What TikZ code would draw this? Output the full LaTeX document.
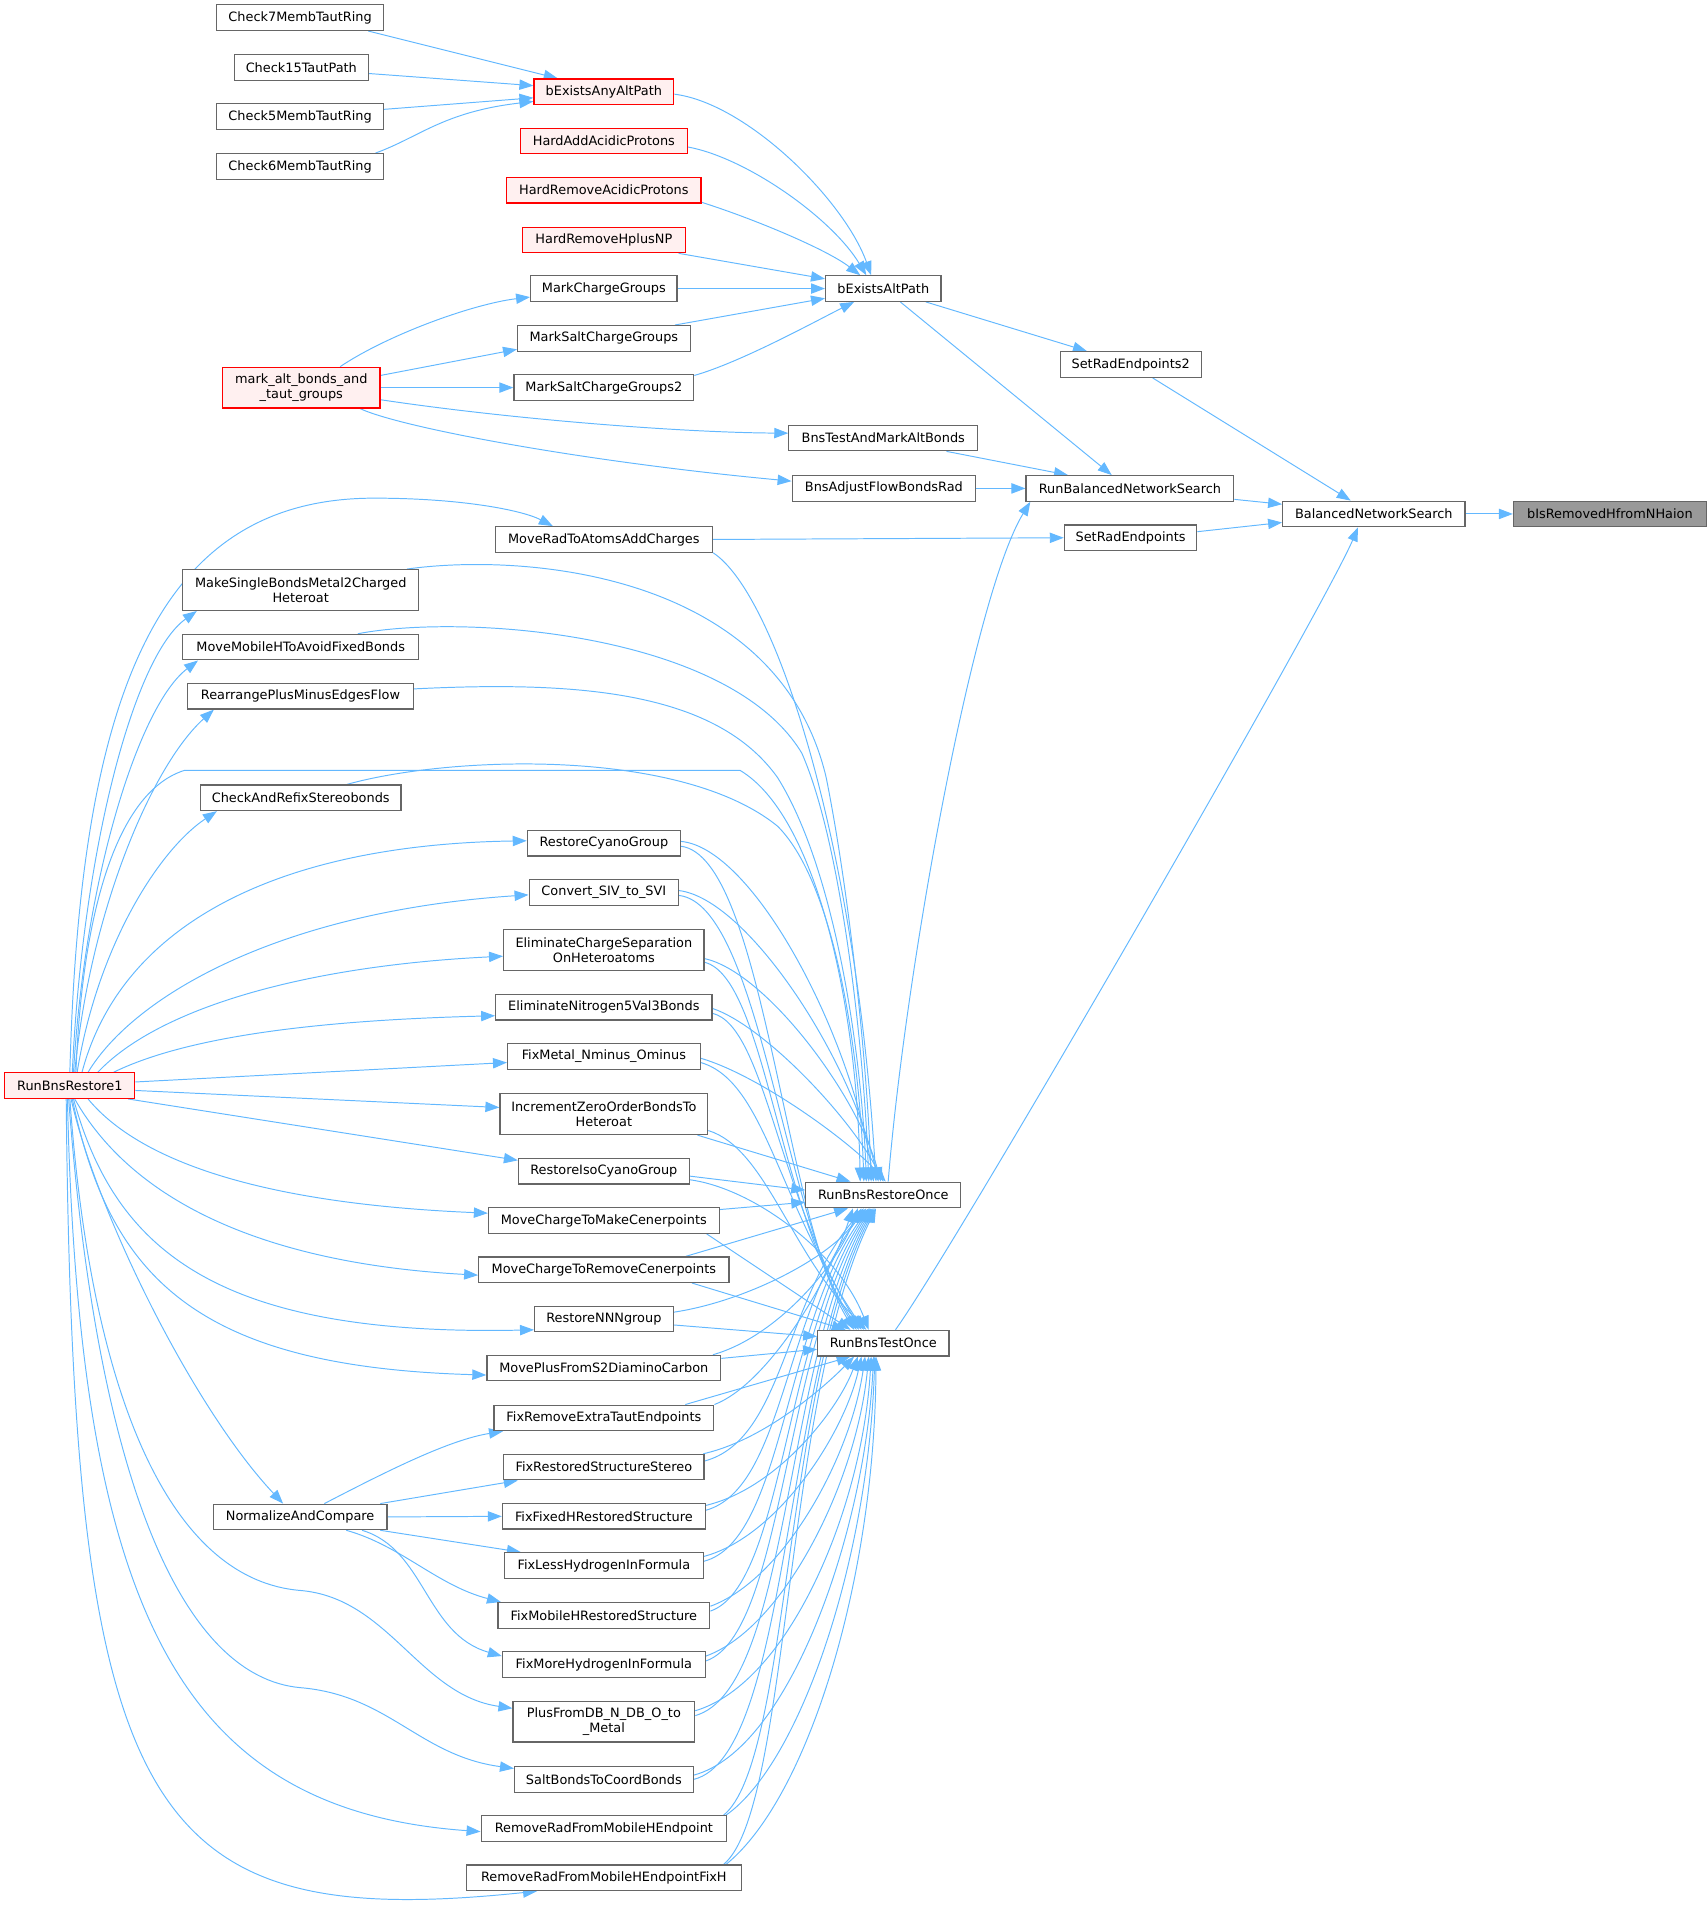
\documentclass[tikz,border=0pt]{standalone}
\usepackage{fontspec}
\usetikzlibrary{arrows.meta}
\newfontfamily\dvs{DejaVu Sans}
\definecolor{edgeblue}{HTML}{63B8FF}
\definecolor{boxgray}{HTML}{666666}
\definecolor{redfill}{HTML}{FFF0F0}
\definecolor{redline}{HTML}{FF0000}
\definecolor{rootfill}{HTML}{999999}
\pgfdeclarelayer{background}
\pgfsetlayers{background,main}
\tikzset{
  box/.style={draw=boxgray, line width=1pt, fill=white, minimum height=21pt,
    inner xsep=2pt, inner ysep=1pt, text=black, align=center,
    font=\dvs\fontsize{10.6}{12.6}\selectfont},
  redbox/.style={box, draw=redline, fill=redfill},
  rootbox/.style={box, fill=rootfill},
  tall/.style={minimum height=33.5pt},
  call/.style={draw=edgeblue, line width=0.8pt, -{Triangle[length=11.5pt,width=8.5pt]}}
}
\begin{document}
\begin{tikzpicture}[x=1pt,y=-1pt]
\useasboundingbox (0,0) rectangle (1405,1571.2);
% rank 0
\node[redbox, minimum width=107pt] (r1) at (57.5,893.5) {RunBnsRestore1};
% rank 1
\node[box, minimum width=137pt] (c7) at (247,14.5) {Check7MembTautRing};
\node[box, minimum width=110pt] (c15) at (248,55.5) {Check15TautPath};
\node[box, minimum width=137pt] (c5) at (247,96) {Check5MembTautRing};
\node[box, minimum width=137pt] (c6) at (247,137) {Check6MembTautRing};
\node[redbox, tall, minimum width=129.5pt] (mark) at (248,319) {mark\_alt\_bonds\_and\\\_taut\_groups};
\node[box, tall, minimum width=194pt] (makes) at (247.5,485.6) {MakeSingleBondsMetal2Charged\\Heteroat};
\node[box, minimum width=194pt] (movemob) at (247.5,532.6) {MoveMobileHToAvoidFixedBonds};
\node[box, minimum width=185.5pt] (rearr) at (247.3,573) {RearrangePlusMinusEdgesFlow};
\node[box, minimum width=165pt] (check) at (247.5,656.6) {CheckAndRefixStereobonds};
\node[box, minimum width=143pt] (norm) at (247,1248.5) {NormalizeAndCompare};
% rank 2
\node[redbox, minimum width=115pt] (bany) at (497,75.5) {bExistsAnyAltPath};
\node[redbox, minimum width=137.5pt] (hadd) at (497,116) {HardAddAcidicProtons};
\node[redbox, minimum width=160pt] (hrem) at (497,156.5) {HardRemoveAcidicProtons};
\node[redbox, minimum width=134pt] (hnp) at (497,197.5) {HardRemoveHplusNP};
\node[box, minimum width=120.5pt] (mcg) at (497,237.5) {MarkChargeGroups};
\node[box, minimum width=142pt] (mscg) at (497,278.5) {MarkSaltChargeGroups};
\node[box, minimum width=148pt] (mscg2) at (497,319) {MarkSaltChargeGroups2};
\node[box, minimum width=179pt] (moverad) at (497,444) {MoveRadToAtomsAddCharges};
\node[box, minimum width=126pt] (cyano) at (497,694) {RestoreCyanoGroup};
\node[box, minimum width=123pt] (siv) at (497,734.5) {Convert\_SIV\_to\_SVI};
\node[box, tall, minimum width=165pt] (elimc) at (497,782) {EliminateChargeSeparation\\OnHeteroatoms};
\node[box, minimum width=178pt] (elimn) at (497,829) {EliminateNitrogen5Val3Bonds};
\node[box, minimum width=158.5pt] (fixmetal) at (497,869.5) {FixMetal\_Nminus\_Ominus};
\node[box, tall, minimum width=171pt] (incr) at (497,917) {IncrementZeroOrderBondsTo\\Heteroat};
\node[box, minimum width=140.5pt] (isocy) at (497,964) {RestoreIsoCyanoGroup};
\node[box, minimum width=190pt] (mcmake) at (497,1004.5) {MoveChargeToMakeCenerpoints};
\node[box, minimum width=206pt] (mcrem) at (497,1045) {MoveChargeToRemoveCenerpoints};
\node[box, minimum width=114pt] (nnn) at (497,1085.5) {RestoreNNNgroup};
\node[box, minimum width=192.5pt] (mplus) at (497,1126) {MovePlusFromS2DiaminoCarbon};
\node[box, minimum width=181pt] (fixrem) at (497,1167) {FixRemoveExtraTautEndpoints};
\node[box, minimum width=164.7pt] (fixstereo) at (497,1207.5) {FixRestoredStructureStereo};
\node[box, minimum width=167pt] (fixfixed) at (497,1248) {FixFixedHRestoredStructure};
\node[box, minimum width=163.6pt] (fixless) at (497,1288.5) {FixLessHydrogenInFormula};
\node[box, minimum width=174.4pt] (fixmob) at (497,1329.5) {FixMobileHRestoredStructure};
\node[box, minimum width=167pt] (fixmore) at (497,1370) {FixMoreHydrogenInFormula};
\node[box, tall, minimum width=149.5pt] (plus) at (497,1417) {PlusFromDB\_N\_DB\_O\_to\\\_Metal};
\node[box, minimum width=147pt] (salt) at (497,1464.5) {SaltBondsToCoordBonds};
\node[box, minimum width=202pt] (remrad) at (497,1505) {RemoveRadFromMobileHEndpoint};
\node[box, minimum width=226pt] (remradh) at (497,1545.5) {RemoveRadFromMobileHEndpointFixH};
% rank 3
\node[box, minimum width=95pt] (balt) at (727,237.5) {bExistsAltPath};
\node[box, minimum width=155.5pt] (bnstest) at (727,360.5) {BnsTestAndMarkAltBonds};
\node[box, minimum width=151pt] (bnsadj) at (727.5,402) {BnsAdjustFlowBondsRad};
\node[box, minimum width=127.5pt] (rbro) at (727,983.5) {RunBnsRestoreOnce};
\node[box, minimum width=108pt] (rbto) at (727,1105.5) {RunBnsTestOnce};
% rank 4-6
\node[box, minimum width=116pt] (setrad2) at (930.6,300) {SetRadEndpoints2};
\node[box, minimum width=171pt] (rbns) at (930,402) {RunBalancedNetworkSearch};
\node[box, minimum width=109pt] (setrad) at (930.5,442.6) {SetRadEndpoints};
\node[box, minimum width=150pt] (bns) at (1130.7,423) {BalancedNetworkSearch};
\node[rootbox, minimum width=158.7pt] (root) at (1325,423) {bIsRemovedHfromNHaion};

\begin{pgfonlayer}{background}
% top area
\draw[call] ([xshift=-13pt]c7.south east) -- ([xshift=20pt]bany.north west);
\draw[call] ([yshift=-5pt]c15.east) -- ([yshift=5pt]bany.west);
\draw[call] ([yshift=6pt]c5.east) -- ([yshift=-5pt]bany.west);
\draw[call] ([xshift=-7pt]c6.north east) .. controls (345,113) and (365,92) .. ([yshift=-8pt]bany.west);
\draw[call] ([yshift=-2pt]bany.east) .. controls (615,85) and (695,165) .. ([xshift=-10pt]balt.north);
\draw[call] ([yshift=-5pt]hadd.east) .. controls (615,130) and (685,180) .. ([xshift=-14pt]balt.north);
\draw[call] ([yshift=-10pt]hrem.east) .. controls (620,180) and (680,205) .. ([xshift=-19pt]balt.north);
\draw[call] ([xshift=-6pt]hnp.south east) -- ([yshift=8pt]balt.west);
\draw[call] (mcg.east) -- (balt.west);
\draw[call] ([xshift=-13pt]mscg.north east) -- ([yshift=-8pt]balt.west);
\draw[call] ([yshift=10pt]mscg2.east) .. controls (610,298) and (670,265) .. ([xshift=-24pt]balt.south);
\draw[call] ([xshift=32pt]mark.north) .. controls (320,275) and (390,250) .. ([yshift=-7pt]mcg.west);
\draw[call] ([yshift=10pt]mark.east) -- ([yshift=-9pt]mscg.west);
\draw[call] (mark.east) -- (mscg2.west);
\draw[call] ([yshift=-10pt]mark.east) .. controls (420,345) and (560,356) .. ([yshift=4pt]bnstest.west);
\draw[call] ([xshift=-17pt]mark.south east) .. controls (330,352) and (480,380) .. ([yshift=6pt]bnsadj.west);
\draw[call] ([xshift=35pt]balt.south) -- ([xshift=-36pt]setrad2.north);
\draw[call] ([xshift=14pt]balt.south) -- ([xshift=-15pt]rbns.north);
\draw[call] ([xshift=18pt]setrad2.south) -- ([xshift=-19pt]bns.north);
\draw[call] ([xshift=52pt]bnstest.south) -- ([xshift=-51pt]rbns.north);
\draw[call] (bnsadj.east) -- (rbns.west);
\draw[call] ([yshift=-9pt]rbns.east) -- ([yshift=8pt]bns.west);
\draw[call] ([yshift=5pt]setrad.east) -- ([yshift=-7pt]bns.west);
\draw[call] (bns.east) -- (root.west);
\draw[call] (moverad.east) -- (setrad.west);
\draw[call] ([xshift=4pt]rbro.north) .. controls (745,800) and (801,490) .. ([xshift=-82pt]rbns.south);
\draw[call] ([xshift=10pt]rbto.north) .. controls (790,1020) and (1090,500) .. ([xshift=-13pt]bns.south);
% from RunBnsRestore1
\draw[call] (r1.north) .. controls (66,560) and (135,410) .. (308,410) .. controls (380,410) and (430,420) .. ([xshift=-42pt]moverad.north);
\draw[call] ([xshift=2pt]r1.north) .. controls (68,700) and (110,540) .. ([xshift=12pt]makes.south west);
\draw[call] ([xshift=3pt]r1.north) .. controls (70,720) and (115,580) .. ([xshift=13pt]movemob.south west);
\draw[call] ([xshift=4pt]r1.north) .. controls (74,750) and (125,630) .. ([xshift=22pt]rearr.south west);
\draw[call] ([xshift=6pt]r1.north) .. controls (80,780) and (130,700) .. ([xshift=14pt]check.south west);
\draw[call] ([xshift=5pt]r1.north) .. controls (68,740) and (100,650) .. (152,634) -- (609,634) .. controls (670,670) and (705,820) .. ([xshift=-19pt]rbro.north);
\draw[call] ([xshift=10pt]r1.north) .. controls (100,760) and (230,695) .. ([yshift=2pt]cyano.west);
\draw[call] ([xshift=15pt]r1.north) .. controls (110,820) and (230,750) .. ([yshift=-2pt]siv.west);
\draw[call] ([xshift=23pt]r1.north) .. controls (130,830) and (250,795) .. ([yshift=-5pt]elimc.west);
\draw[call] ([xshift=-18pt]r1.north east) .. controls (150,855) and (250,840) .. ([yshift=-7pt]elimn.west);
\draw[call] ([yshift=3pt]r1.east) -- ([yshift=-5pt]fixmetal.west);
\draw[call] ([yshift=-4pt]r1.east) -- ([yshift=5.5pt]incr.west);
\draw[call] ([xshift=-6pt]r1.south east) -- ([yshift=-2pt]isocy.north west);
\draw[call] ([xshift=15pt]r1.south) .. controls (110,950) and (200,990) .. ([yshift=6pt]mcmake.west);
\draw[call] ([xshift=4pt]r1.south) .. controls (110,990) and (220,1040) .. ([yshift=-4.5pt]mcrem.west);
\draw[call] ([xshift=3pt]r1.south) .. controls (95,1030) and (180,1100) .. ([yshift=2pt]nnn.south west);
\draw[call] ([xshift=2pt]r1.south) .. controls (90,1050) and (160,1125) .. ([yshift=-5.7pt]mplus.west);
\draw[call] ([xshift=1pt]r1.south) .. controls (80,1000) and (160,1160) .. ([xshift=-14pt]norm.north);
\draw[call] (r1.south) .. controls (75,1150) and (140,1300) .. (247,1309) .. controls (320,1315) and (345,1395) .. ([yshift=11pt]plus.west);
\draw[call] ([xshift=-1pt]r1.south) .. controls (80,1220) and (150,1380) .. (247,1389) .. controls (320,1395) and (345,1445) .. ([yshift=9pt]salt.west);
\draw[call] ([xshift=-2pt]r1.south) .. controls (65,1330) and (150,1490) .. ([yshift=-2.5pt]remrad.west);
\draw[call] ([xshift=-3pt]r1.south) .. controls (60,1500) and (120,1590) .. ([xshift=-55pt]remradh.south);
% NormalizeAndCompare
\draw[call] ([xshift=20pt]norm.north) .. controls (320,1210) and (370,1185) .. ([xshift=8pt]fixrem.south west);
\draw[call] ([xshift=-6pt]norm.north east) -- ([xshift=12pt]fixstereo.south west);
\draw[call] (norm.east) -- (fixfixed.west);
\draw[call] ([xshift=-6pt]norm.south east) -- ([xshift=14pt]fixless.north west);
\draw[call] ([xshift=38pt]norm.south) .. controls (330,1272) and (360,1305) .. ([xshift=3pt]fixmob.north west);
\draw[call] ([xshift=51pt]norm.south) .. controls (350,1275) and (350,1345) .. ([yshift=7pt]fixmore.west);
% to RunBnsRestoreOnce from above
\draw[call] (moverad.south east) .. controls (640,490) and (705,700) .. ([xshift=-6pt]rbro.north);
\draw[call] ([xshift=-10pt]makes.north east) .. controls (430,455) and (640,470) .. (680,640) .. controls (700,740) and (714,880) .. ([xshift=-10pt]rbro.north);
\draw[call] ([xshift=47pt]movemob.north) .. controls (380,505) and (600,520) .. (660,620) .. controls (695,700) and (712,880) .. ([xshift=-12pt]rbro.north);
\draw[call] ([yshift=6pt]rearr.east) .. controls (480,560) and (590,570) .. (640,640) .. controls (690,720) and (710,880) .. ([xshift=-14pt]rbro.north);
\draw[call] ([xshift=38pt]check.north) .. controls (370,622) and (560,615) .. (640,680) .. controls (690,730) and (708,880) .. ([xshift=-16pt]rbro.north);
\draw[call] ([yshift=1.5pt]cyano.east) .. controls (620,698) and (700,850) .. ([xshift=-8pt]rbro.north);
\draw[call] ([yshift=1.5pt]siv.east) .. controls (615,740) and (700,870) .. ([xshift=-4pt]rbro.north);
\draw[call] ([yshift=-7pt]elimc.east) .. controls (630,800) and (705,900) .. ([xshift=-2pt]rbro.north);
\draw[call] ([yshift=-1pt]elimn.east) .. controls (630,845) and (700,920) .. (rbro.north);
\draw[call] ([yshift=-1.5pt]fixmetal.east) .. controls (625,885) and (700,940) .. ([xshift=2pt]rbro.north);
\draw[call] ([xshift=-9pt]incr.south east) -- ([xshift=-27pt]rbro.north);
\draw[call] ([yshift=-4pt]isocy.east) -- ([yshift=4pt]rbro.west);
\draw[call] ([yshift=9pt]mcmake.east) -- ([yshift=-6pt]rbro.west);
% to RunBnsTestOnce from above
\draw[call] ([yshift=-2.5pt]cyano.east) .. controls (628,705) and (645,1000) .. ([xshift=-24pt]rbto.north);
\draw[call] ([yshift=-2.5pt]siv.east) .. controls (625,745) and (645,1000) .. ([xshift=-22pt]rbto.north);
\draw[call] ([yshift=-10pt]elimc.east) .. controls (630,805) and (640,995) .. ([xshift=-20pt]rbto.north);
\draw[call] ([yshift=-5pt]elimn.east) .. controls (630,845) and (640,985) .. ([xshift=-18pt]rbto.north);
\draw[call] ([yshift=-5pt]fixmetal.east) .. controls (630,890) and (640,990) .. ([xshift=-16pt]rbto.north);
\draw[call] ([yshift=-13.5pt]incr.east) .. controls (630,945) and (650,1030) .. ([xshift=-14pt]rbto.north);
\draw[call] ([yshift=-7pt]isocy.east) .. controls (620,978) and (690,1030) .. ([xshift=-12pt]rbto.north);
\draw[call] ([xshift=-11pt]mcmake.south east) -- ([xshift=-27pt]rbto.north);
\draw[call] ([xshift=-31pt]mcrem.south east) -- ([xshift=-31pt]rbto.north);
% middle
\draw[call] ([xshift=-36pt]mcrem.north east) -- ([xshift=-29pt]rbro.south);
\draw[call] ([yshift=5.5pt]nnn.east) .. controls (620,1070) and (690,1030) .. ([xshift=-18pt]rbro.south);
\draw[call] ([yshift=-5pt]nnn.east) -- ([yshift=5.5pt]rbto.west);
\draw[call] ([yshift=8pt]mplus.east) -- ([yshift=-5pt]rbto.west);
\draw[call] ([xshift=-7pt]mplus.north east) .. controls (640,1100) and (690,1040) .. ([xshift=-21pt]rbro.south);
% bottom group
\draw[call] ([xshift=67pt]fixrem.north) -- ([xshift=-27pt]rbto.south);
\draw[call] (fixrem.north east) .. controls (630,1140) and (680,1060) .. ([xshift=-25pt]rbro.south);
\draw[call] ([xshift=-1pt]fixstereo.north east) .. controls (630,1185) and (680,1140) .. ([xshift=-24pt]rbto.south);
\draw[call] ([yshift=5pt]fixstereo.east) .. controls (645,1185) and (645,1070) .. ([xshift=-16pt]rbro.south);
\draw[call] ([yshift=9pt]fixfixed.east) .. controls (640,1225) and (690,1160) .. ([xshift=-21pt]rbto.south);
\draw[call] ([yshift=5pt]fixfixed.east) .. controls (645,1225) and (645,1080) .. ([xshift=-14pt]rbro.south);
\draw[call] ([yshift=7.5pt]fixless.east) .. controls (640,1265) and (695,1180) .. ([xshift=-18pt]rbto.south);
\draw[call] ([yshift=3.5pt]fixless.east) .. controls (645,1268) and (645,1090) .. ([xshift=-12pt]rbro.south);
\draw[call] ([yshift=7.5pt]fixmob.east) .. controls (645,1300) and (700,1200) .. ([xshift=-15pt]rbto.south);
\draw[call] ([yshift=3.5pt]fixmob.east) .. controls (645,1305) and (645,1100) .. ([xshift=-11pt]rbro.south);
\draw[call] ([yshift=7pt]fixmore.east) .. controls (645,1340) and (705,1220) .. ([xshift=-12pt]rbto.south);
\draw[call] ([yshift=3pt]fixmore.east) .. controls (645,1345) and (645,1110) .. ([xshift=-10pt]rbro.south);
\draw[call] ([yshift=9pt]plus.east) .. controls (650,1385) and (710,1240) .. ([xshift=-10pt]rbto.south);
\draw[call] ([yshift=5pt]plus.east) .. controls (650,1390) and (645,1120) .. ([xshift=-9pt]rbro.south);
\draw[call] ([yshift=3.5pt]salt.east) .. controls (650,1440) and (712,1260) .. ([xshift=-8pt]rbto.south);
\draw[call] (salt.east) .. controls (650,1445) and (645,1130) .. ([xshift=-8pt]rbro.south);
\draw[call] ([xshift=-1pt]remrad.north east) .. controls (660,1450) and (715,1280) .. ([xshift=-7pt]rbto.south);
\draw[call] ([xshift=-3pt]remrad.north east) .. controls (650,1450) and (645,1140) .. ([xshift=-7pt]rbro.south);
\draw[call] ([xshift=-13pt]remradh.north east) .. controls (665,1480) and (720,1300) .. ([xshift=-6pt]rbto.south);
\draw[call] ([xshift=-15pt]remradh.north east) .. controls (650,1490) and (645,1150) .. ([xshift=-6pt]rbro.south);
\end{pgfonlayer}
\end{tikzpicture}
\end{document}
